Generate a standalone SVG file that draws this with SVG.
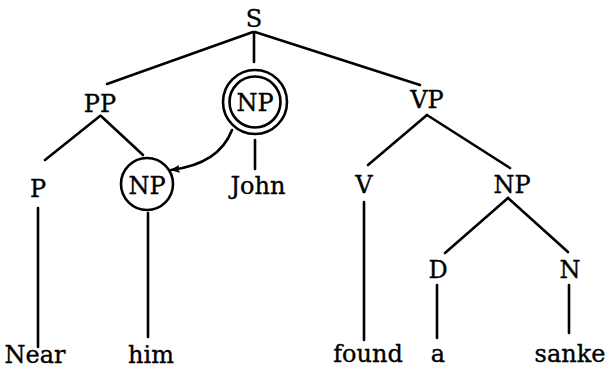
<svg xmlns="http://www.w3.org/2000/svg" width="609" height="369" viewBox="0 0 609 369">
<style>
text{font-family:'DejaVu Serif','Liberation Serif',serif;font-size:24px;fill:#000;stroke:#000;stroke-width:0.35;text-anchor:middle}
.e{stroke:#000;stroke-width:2.6;fill:none;stroke-linecap:round}
.c{stroke:#000;stroke-width:2.6;fill:none}
</style>
<defs>
<marker id="ah" markerWidth="10" markerHeight="8" refX="9" refY="4" orient="auto" markerUnits="userSpaceOnUse">
<path d="M0,0 L10,4 L0,8 L2,4 Z" fill="#000"/>
</marker>
</defs>
<rect width="609" height="369" fill="#fff"/>
<g id="connectors">
<line class="e" x1="253" y1="32" x2="107" y2="84"/>
<line class="e" x1="254" y1="33" x2="254" y2="62"/>
<line class="e" x1="255" y1="32" x2="420" y2="85"/>
<line class="e" x1="100" y1="116" x2="45" y2="160"/>
<line class="e" x1="101" y1="116" x2="143" y2="155"/>
<line class="e" x1="38" y1="208" x2="38" y2="347"/>
<line class="e" x1="148" y1="213" x2="148" y2="337"/>
<line class="e" x1="255" y1="140" x2="255" y2="169"/>
<line class="e" x1="427" y1="115" x2="368" y2="165"/>
<line class="e" x1="427" y1="115" x2="510" y2="168"/>
<line class="e" x1="364" y1="202" x2="364" y2="340"/>
<line class="e" x1="508" y1="198" x2="445" y2="253"/>
<line class="e" x1="508" y1="198" x2="568" y2="252"/>
<line class="e" x1="437" y1="285" x2="437" y2="338"/>
<line class="e" x1="569" y1="285" x2="569" y2="333"/>
<path class="e" d="M232,130 Q219,164 171,170" marker-end="url(#ah)"/>
</g>
<g id="n-S"><text x="254" y="27">S</text></g>
<g id="n-PP"><text x="100" y="112">PP</text></g>
<g id="n-NP1"><circle class="c" cx="255" cy="102" r="32"/><circle class="c" cx="255" cy="102" r="25.5"/><text x="255" y="111">NP</text></g>
<g id="n-VP"><text x="427" y="108">VP</text></g>
<g id="n-P"><text x="38" y="197">P</text></g>
<g id="n-NP2"><circle class="c" cx="147" cy="184" r="26"/><text x="147" y="194">NP</text></g>
<g id="n-John"><text x="258" y="194">John</text></g>
<g id="n-V"><text x="364" y="193">V</text></g>
<g id="n-NP3"><text x="512" y="193">NP</text></g>
<g id="n-D"><text x="438" y="278">D</text></g>
<g id="n-N"><text x="570" y="278">N</text></g>
<g id="n-Near"><text x="35" y="363">Near</text></g>
<g id="n-him"><text x="151" y="363">him</text></g>
<g id="n-found"><text x="368" y="362">found</text></g>
<g id="n-a"><text x="438" y="362">a</text></g>
<g id="n-sanke"><text x="570" y="362">sanke</text></g>
</svg>
